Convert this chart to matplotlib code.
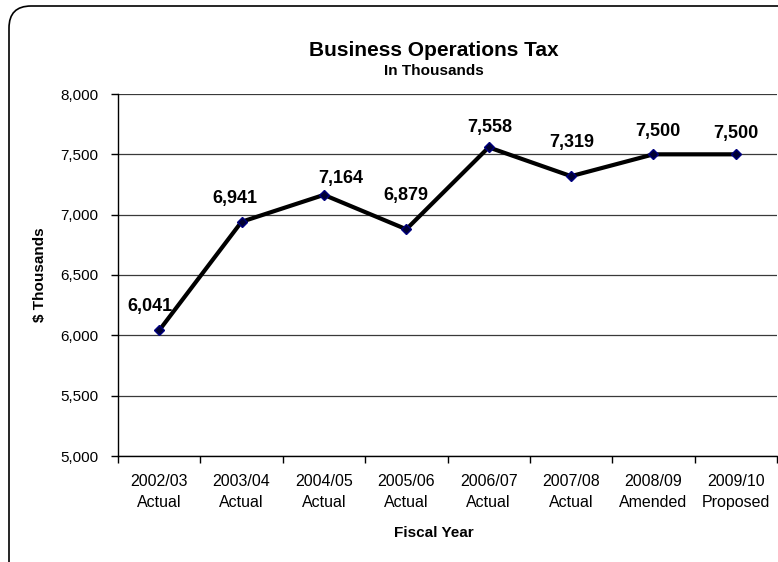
import matplotlib
matplotlib.use("Agg")
import matplotlib.pyplot as plt
from matplotlib.patches import FancyBboxPatch
from matplotlib.ticker import FuncFormatter, FixedLocator

plt.rcParams["font.family"] = ["Liberation Sans", "DejaVu Sans"]

# ── data ─────────────────────────────────────────────────────────────────────
years    = ["2002/03", "2003/04", "2004/05", "2005/06",
            "2006/07", "2007/08", "2008/09", "2009/10"]
statuses = ["Actual", "Actual", "Actual", "Actual",
            "Actual", "Actual", "Amended", "Proposed"]
revenue  = [6041, 6941, 7164, 6879, 7558, 7319, 7500, 7500]

# hand-placed label offsets (pixels from the marker)
label_dx = [-9, -7, 17, 0, 1, 1, 4, 0]
label_dy = [19, 19, 12, 29, 15, 29, 18, 16]

# ── figure ───────────────────────────────────────────────────────────────────
fig = plt.figure(figsize=(7.78, 5.62), dpi=100)
fig.patch.set_facecolor("white")

frame = FancyBboxPatch((0.09, -0.3), 8.5, 5.56 + 0.3,
                       boxstyle="round,pad=0,rounding_size=0.22",
                       transform=fig.dpi_scale_trans, fill=False,
                       edgecolor="black", lw=1.2, clip_on=False)
fig.patches.append(frame)

ax = fig.add_axes([118 / 778, 1 - 456 / 562, 659 / 778, 362 / 562])
x = list(range(len(revenue)))

ax.plot(x, revenue, color="black", lw=3, zorder=3)
ax.plot(x, revenue, ls="none", marker="D", ms=5, mfc="#000033",
        mec="#000080", mew=1, zorder=4)

for xi, v, dx, dy in zip(x, revenue, label_dx, label_dy):
    ax.annotate(f"{v:,}", (xi, v), xytext=(dx, dy), textcoords="offset pixels",
                ha="center", va="baseline", fontsize=13, fontweight="bold")

ax.set_xlim(-0.5, len(revenue) - 0.5)
ax.set_ylim(5000, 8000)
ax.set_yticks(range(5000, 8001, 500))
ax.yaxis.set_major_formatter(FuncFormatter(lambda v, _: f"{int(v):,}"))
ax.yaxis.grid(True, color="#3a3a3a", lw=0.9)
ax.set_axisbelow(True)

ax.set_xticks(x)
ax.set_xticklabels([f"{y}\n{s}" for y, s in zip(years, statuses)],
                   linespacing=1.5)
ax.xaxis.set_minor_locator(FixedLocator([i - 0.5 for i in range(len(revenue) + 1)]))
ax.tick_params(axis="x", which="major", length=0, pad=13, labelsize=11.5)
ax.tick_params(axis="x", which="minor", length=5, width=1, direction="out")
ax.tick_params(axis="y", length=5, width=1, direction="out", pad=9, labelsize=11)

for side in ("top", "right"):
    ax.spines[side].set_visible(False)
for side in ("left", "bottom"):
    ax.spines[side].set_linewidth(1)

fig.text(434 / 778, 1 - 56 / 562, "Business Operations Tax", ha="center",
         va="baseline", fontsize=15, fontweight="bold")
fig.text(434 / 778, 1 - 75 / 562, "In Thousands", ha="center",
         va="baseline", fontsize=11, fontweight="bold")
fig.text(40 / 778, 1 - 275 / 562, "$ Thousands", ha="center", va="center",
         rotation=90, fontsize=11, fontweight="bold")
fig.text(434 / 778, 1 - 533 / 562, "Fiscal Year", ha="center", va="center",
         fontsize=11, fontweight="bold")

fig.savefig("out.png", dpi=100)
